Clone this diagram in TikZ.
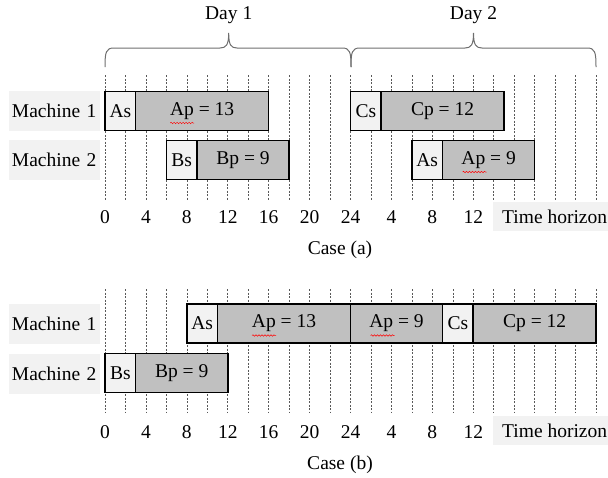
\documentclass[tikz,border=0pt]{standalone}
\usepackage{fontspec}
\setmainfont{Liberation Serif}
\usetikzlibrary{decorations.pathmorphing}
\definecolor{setupc}{HTML}{F2F2F2}
\definecolor{procc}{HTML}{C0C0C0}
\definecolor{labbg}{HTML}{F2F2F2}
\definecolor{bracec}{HTML}{6E6E6E}
\tikzset{
  every node/.style={font=\fontsize{19.5}{23}\selectfont, inner sep=0pt},
  job/.style={draw=black, line width=1.6pt, minimum height=39pt, minimum width=#1*10.23pt, anchor=center},
  sjob/.style={job=#1, fill=setupc},
  pjob/.style={job=#1, fill=procc},
  grid/.style={draw=black!65, line width=0.6pt, dash pattern=on 2pt off 1.5pt},
  lab/.style={fill=labbg, minimum width=91pt, minimum height=40pt, text width=85pt, align=left},
  thbg/.style={fill=labbg, minimum width=115pt, minimum height=29pt},
  squig/.style={draw=red, line width=0.5pt, decorate, decoration={snake, segment length=3pt, amplitude=0.7pt}},
  bracep/.style={draw=bracec, line width=1pt}
}
\begin{document}
\begin{tikzpicture}[x=1pt,y=-1pt]
\useasboundingbox (0,0) rectangle (608,477);
% ---------- Case (a) ----------
\foreach \h in {0,2,...,48} \draw[grid] ({105+10.23*\h},75) -- ({105+10.23*\h},200);
% braces
\draw[bracep] (105,67) .. controls (105,52) and (106,48) .. (114,48) -- (220,48) .. controls (226,48) and (228.7,45) .. (228.7,33) .. controls (228.7,45) and (231,48) .. (237,48) -- (342,48) .. controls (350,48) and (351,52) .. (351,67);
\draw[bracep] (351,67) .. controls (351,52) and (352,48) .. (360,48) -- (465,48) .. controls (471,48) and (473.5,45) .. (473.5,33) .. controls (473.5,45) and (476,48) .. (482,48) -- (587,48) .. controls (595,48) and (596,52) .. (596,67);
\node (d1) at (228.7,15) {Day 1};
\node (d2) at (473.5,15) {Day 2};
% labels
\node[lab] (am1) at (54.5,111) {Machine 1};
\node[lab] (am2) at (54.5,160) {Machine 2};
% jobs
\node[sjob=3] (aas) at ({105+10.23*1.5},111) {As};
\node[pjob=13] (aap) at ({105+10.23*9.5},111) {Ap = 13};
\node[sjob=3] (abs) at ({105+10.23*7.5},160) {Bs};
\node[pjob=9] (abp) at ({105+10.23*13.5},160) {Bp = 9};
\node[sjob=3] (acs) at ({105+10.23*25.5},111) {Cs};
\node[pjob=12] (acp) at ({105+10.23*33},111) {Cp = 12};
\node[sjob=3] (aas2) at ({105+10.23*31.5},160) {As};
\node[pjob=9] (aap2) at ({105+10.23*37.5},160) {Ap = 9};
\draw[squig] ([xshift=-32pt,yshift=-12pt]aap.center) -- ++(24,0);
\draw[squig] ([xshift=-26pt,yshift=-12pt]aap2.center) -- ++(24,0);
% ticks
\foreach \h/\t in {0/0,4/4,8/8,12/12,16/16,20/20,24/24,28/4,32/8,36/12}
  \node at ({105+10.23*\h},217) {\t};
\node[thbg] (ath) at (550.5,216) {};
\node[anchor=west] (atht) at (502,217) {Time horizon};
\node (casea) at (340,250) {Case (a)};
% ---------- Case (b) ----------
\foreach \h in {0,2,...,48} \draw[grid] ({105+10.23*\h},289) -- ({105+10.23*\h},412);
\node[lab] (bm1) at (54.5,323.5) {Machine 1};
\node[lab] (bm2) at (54.5,373.5) {Machine 2};
\node[sjob=3] (bas) at ({105+10.23*9.5},323.5) {As};
\node[pjob=13] (bap) at ({105+10.23*17.5},323.5) {Ap = 13};
\node[pjob=9] (bap2) at ({105+10.23*28.5},323.5) {Ap = 9};
\node[sjob=3] (bcs) at ({105+10.23*34.5},323.5) {Cs};
\node[pjob=12] (bcp) at ({105+10.23*42},323.5) {Cp = 12};
\node[sjob=3] (bbs) at ({105+10.23*1.5},373) {Bs};
\node[pjob=9] (bbp) at ({105+10.23*7.5},373) {Bp = 9};
\draw[squig] ([xshift=-32pt,yshift=-12pt]bap.center) -- ++(24,0);
\draw[squig] ([xshift=-26pt,yshift=-12pt]bap2.center) -- ++(24,0);
\foreach \h/\t in {0/0,4/4,8/8,12/12,16/16,20/20,24/24,28/4,32/8,36/12}
  \node at ({105+10.23*\h},432) {\t};
\node[thbg] (bth) at (550.5,430) {};
\node[anchor=west] (btht) at (502,431) {Time horizon};
\node (caseb) at (340,465) {Case (b)};
\end{tikzpicture}
\end{document}
